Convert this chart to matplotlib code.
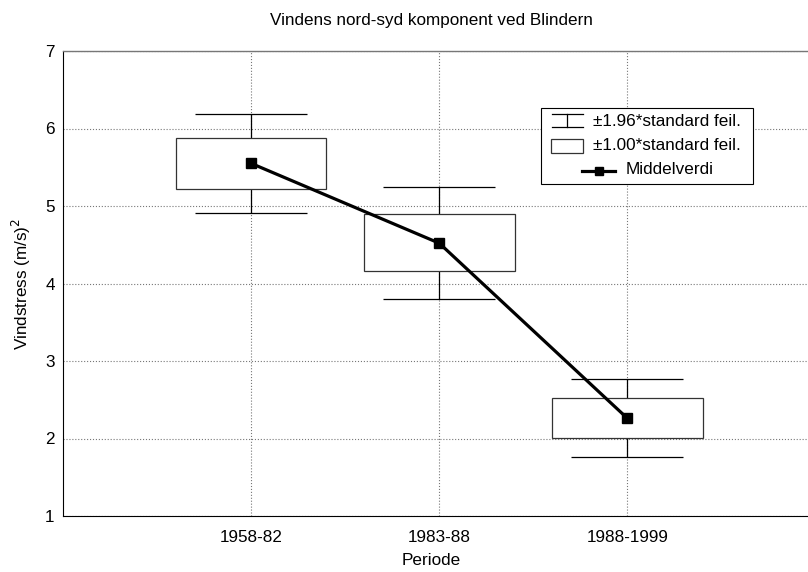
import numpy as np
import matplotlib.pyplot as plt
from matplotlib.patches import Rectangle
from matplotlib.lines import Line2D

plt.rcParams['font.family'] = ['Liberation Sans', 'DejaVu Sans']

periods = ['1958-82', '1983-88', '1988-1999']
mean = [5.55, 4.52, 2.26]
box_lo = [5.22, 4.16, 2.01]
box_hi = [5.88, 4.90, 2.52]
wh_lo = [4.91, 3.80, 1.76]
wh_hi = [6.19, 5.25, 2.77]
legend_labels = ['±1.96*standard feil.', '±1.00*standard feil.', 'Middelverdi']

W, H = 808, 572
FS = 12.3
x = np.arange(1, len(periods) + 1)

fig = plt.figure(figsize=(W / 100, H / 100), dpi=100)
ax = fig.add_axes([63 / W, 1 - 516 / H, 745 / W, 465 / H])

# whiskers (+-1.96 SE)
yerr = [np.array(mean) - np.array(wh_lo), np.array(wh_hi) - np.array(mean)]
ax.errorbar(x, mean, yerr=yerr, fmt='none', ecolor='black', elinewidth=0.9,
            capsize=40, capthick=0.9, zorder=2)

# boxes (+-1.00 SE)
for xi, lo, hi in zip(x, box_lo, box_hi):
    ax.add_patch(Rectangle((xi - 0.4, lo), 0.8, hi - lo, facecolor='white',
                           edgecolor='#333333', linewidth=0.9, zorder=3))

ax.plot(x, mean, color='black', linewidth=2.3, marker='s', markersize=6.8, zorder=4)

ax.set_xlim(0, 3.96)
ax.set_ylim(1, 7)
ax.set_xticks(x)
ax.set_xticklabels(periods)
ax.set_yticks(range(1, 8))
ax.tick_params(length=0, labelsize=FS)
ax.tick_params(axis='x', pad=10)
ax.tick_params(axis='y', pad=6)
ax.grid(True, linestyle=':', color='#777777', linewidth=0.8)
ax.set_axisbelow(True)
ax.spines['right'].set_visible(False)
ax.spines['top'].set_color('#777777')
ax.spines['top'].set_linewidth(1.0)

fig.text(431 / W, 1 - 21 / H, 'Vindens nord-syd komponent ved Blindern',
         ha='center', va='center', fontsize=FS)
ax.set_xlabel('Periode', fontsize=FS)
ax.xaxis.set_label_coords((431 - 63) / 745, (516 - 553) / 465)
ax.set_ylabel('Vindstress (m/s)$^2$', fontsize=FS)
ax.yaxis.set_label_coords((33 - 63) / 745, 0.5)

# legend drawn in figure pixels, Statistica style
def fx(px):
    return px / W

def fy(py):
    return 1 - py / H

tf = fig.transFigure
fig.add_artist(Rectangle((fx(541), fy(184)), fx(753) - fx(541), fy(108) - fy(184),
                         transform=tf, facecolor='white', edgecolor='black',
                         linewidth=0.8, zorder=10))
# row 1: whisker symbol
for seg in [([552, 583], [114, 114]), ([567, 567], [114, 127]), ([552, 583], [127, 127])]:
    fig.add_artist(Line2D([fx(v) for v in seg[0]], [fy(v) for v in seg[1]],
                          transform=tf, color='black', linewidth=0.9, zorder=11))
fig.text(fx(593), fy(122), legend_labels[0], ha='left', va='center', fontsize=FS, zorder=11)
# row 2: box symbol
fig.add_artist(Rectangle((fx(551), fy(153)), fx(583) - fx(551), fy(139) - fy(153),
                         transform=tf, facecolor='white', edgecolor='#333333',
                         linewidth=0.9, zorder=11))
fig.text(fx(593), fy(146), legend_labels[1], ha='left', va='center', fontsize=FS, zorder=11)
# row 3: mean line symbol
fig.add_artist(Line2D([fx(582), fx(615)], [fy(171), fy(171)], transform=tf,
                      color='black', linewidth=2.3, zorder=11))
fig.add_artist(Line2D([fx(599)], [fy(171)], transform=tf, color='black', marker='s',
                      markersize=6.3, linestyle='none', zorder=12))
fig.text(fx(626), fy(170), legend_labels[2], ha='left', va='center', fontsize=FS, zorder=11)

fig.savefig('out.png', dpi=100)
